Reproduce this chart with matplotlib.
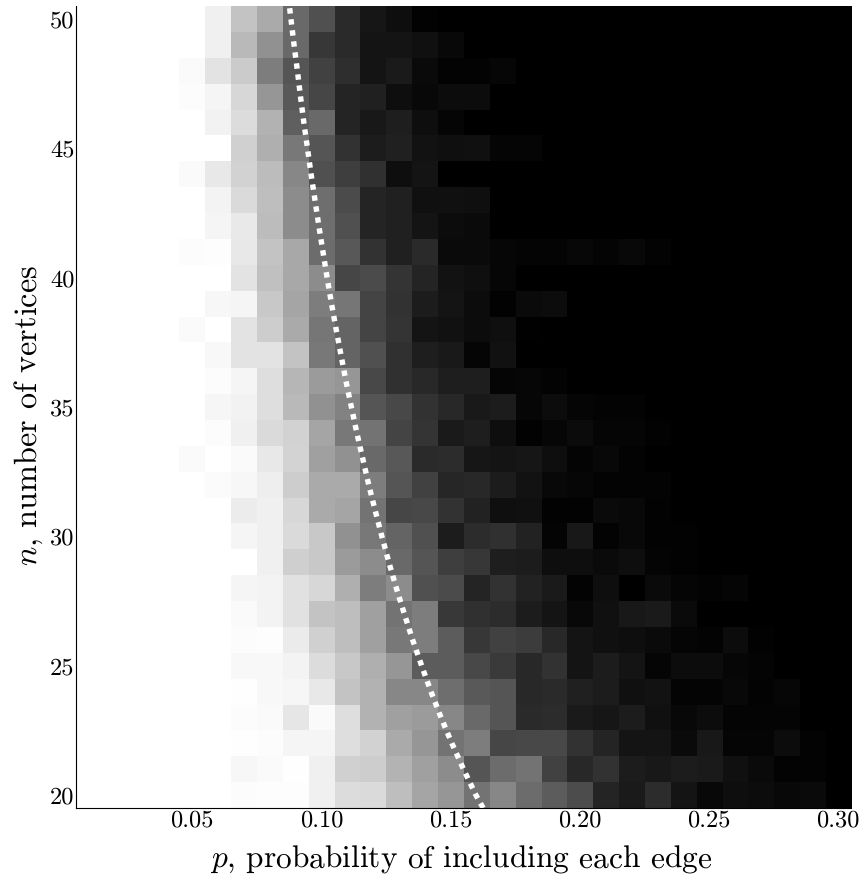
import numpy as np
import matplotlib
matplotlib.use("Agg")
import matplotlib.pyplot as plt

plt.rcParams['font.family'] = ['cmr10', 'DejaVu Serif']
plt.rcParams['mathtext.fontset'] = 'cm'
plt.rcParams['axes.formatter.use_mathtext'] = True
plt.rcParams['text.hinting'] = 'none'

# grey level of each cell, p = 0.05 upward
# (cells left out are white for p < 0.05 and black on the right)
row_50 = [255,240,195,170,105,80,42,22,14,2]
row_49 = [255,240,185,145,105,55,42,20,20,16,8]
row_48 = [250,228,203,125,85,65,46,20,26,10,3,3,6]
row_47 = [252,245,215,150,90,70,36,33,14,8,12,12]
row_46 = [255,242,220,178,95,105,36,24,30,14,5]
row_45 = [255,255,208,175,120,85,50,28,32,18,15,16,5,5]
row_44 = [250,232,210,188,135,80,62,48,14,20]
row_43 = [255,243,218,190,140,110,75,36,32,16,16,15]
row_42 = [255,245,233,188,140,110,80,36,33,20,12,10]
row_41 = [252,253,232,195,168,108,88,50,32,42,10,10,6,4,4,7,4,8,3]
row_40 = [255,255,228,192,168,140,70,75,52,36,18,15,6]
row_39 = [255,247,245,200,165,125,118,68,50,28,20,12,2,10,12]
row_38 = [250,255,228,205,170,118,100,68,52,20,17,12,15,1]
row_37 = [255,248,228,228,195,120,100,80,48,30,25,5,17]
row_36 = [255,252,245,222,182,155,150,72,48,40,30,30,5,6,3]
row_35 = [255,246,242,222,185,145,130,85,72,50,40,25,28,6,12,5,3,3]
row_34 = [255,252,240,218,210,165,120,115,68,52,26,30,14,2,6,11,5,5,2]
row_33 = [250,255,250,232,212,160,145,105,88,42,44,22,20,22,14,4,8,3]
row_32 = [255,251,247,238,205,170,170,125,85,66,38,40,28,18,8,6,3,3,3]
row_31 = [255,255,236,240,215,170,165,115,70,72,50,34,15,16,2,2,10,8,2]
row_30 = [255,255,245,240,218,200,145,120,100,80,28,44,48,34,4,24,3,8,2,2]
row_29 = [255,255,255,240,207,200,155,140,105,85,62,55,30,28,14,14,10,14,4,2]
row_28 = [255,255,245,243,225,215,175,125,140,80,75,36,50,34,26,3,14,0,10,5,3,5]
row_27 = [255,255,250,244,225,195,190,160,115,125,56,48,44,28,20,8,16,24,26,10]
row_26 = [255,255,252,253,235,208,190,160,120,125,92,55,66,60,40,20,16,14,10,5,3,12,2]
row_25 = [255,255,248,248,243,220,200,175,150,92,92,72,58,40,50,20,28,20,5,12,12,6,4]
row_24 = [255,255,254,248,246,232,195,178,135,135,110,90,85,40,42,32,28,16,18,4,4,8,3,6]
row_23 = [255,255,252,250,230,250,222,178,160,155,135,105,85,42,44,26,22,28,16,8,12,4,4,4]
row_22 = [255,255,254,252,245,245,222,210,170,150,115,125,70,72,72,50,36,20,20,10,24,5,5,12,3]
row_21 = [255,255,247,250,254,240,208,205,180,160,140,85,108,115,65,40,50,28,24,28,26,16,10,3,3]
row_20 = [255,255,252,253,253,240,220,218,190,165,150,115,135,108,92,76,36,26,44,20,8,14,12,8,10]

rows = [row_20,row_21,row_22,row_23,row_24,row_25,row_26,row_27,row_28,row_29,row_30,
        row_31,row_32,row_33,row_34,row_35,row_36,row_37,row_38,row_39,row_40,
        row_41,row_42,row_43,row_44,row_45,row_46,row_47,row_48,row_49,row_50]

curve_n = [19.5,20,21,22,23,24,25,26,27,28,29,30,31,32,33,34,35,36,37,38,39,40,41,42,43,44,45,46,47,48,49,50,50.5]
curve_p = [.1626,.1598,.1550,.1505,.1463,.1424,.1388,.1353,.1321,.1290,.1261,.1234,.1208,.1183,.1160,.1137,
           .1116,.1095,.1076,.1057,.1039,.1022,.1006,.0990,.0975,.0960,.0946,.0932,.0919,.0907,.0894,.0882,.0876]

x_ticks = [0.05,0.10,0.15,0.20,0.25,0.30]
y_ticks = [20,25,30,35,40,45,50]

grid = np.zeros((31,30))
grid[:,:4] = 255
for i, r in enumerate(rows):
    grid[i,4:4+len(r)] = r

W, H = 863, 875
fig = plt.figure(figsize=(W/100,H/100), dpi=100)
ax = fig.add_axes([76/W, 1-808/H, (851-76)/W, (808-6)/H])
ax.imshow(grid, cmap='gray', vmin=0, vmax=255, origin='lower', aspect='auto',
          interpolation='nearest', extent=[0.005,0.305,19.5,50.5])
ax.plot(curve_p, curve_n, color='white', lw=3.9, linestyle=(0,(1,1.05)), dash_capstyle='butt')
ax.set_xlim(0.005,0.305)
ax.set_ylim(19.5,50.5)
ax.spines['top'].set_visible(False)
ax.spines['right'].set_visible(False)
ax.set_xticks(x_ticks)
ax.set_xticklabels(['%.2f' % v for v in x_ticks])
ax.set_yticks(y_ticks)
ax.set_yticklabels([str(v) for v in y_ticks])
ax.tick_params(length=0, labelsize=17.6, pad=1)
ax.set_xlabel(r'$p$, probability of including each edge', fontsize=22.6, labelpad=9, x=0.497)
ax.set_ylabel(r'$n$, number of vertices', fontsize=23.2, labelpad=4, y=0.49)
fig.savefig('out.png', dpi=100)
